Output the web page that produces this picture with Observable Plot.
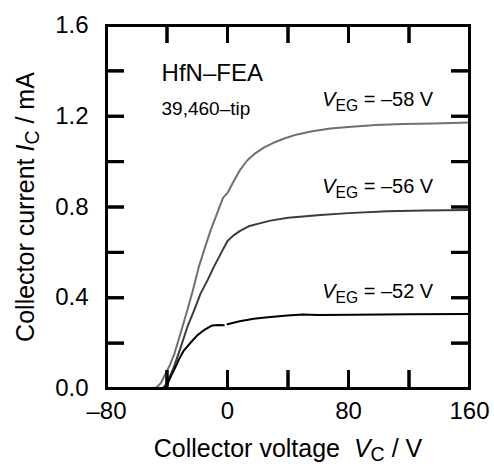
<!DOCTYPE html>
<html><head><meta charset="utf-8">
<script src="https://cdn.jsdelivr.net/npm/d3@7"></script>
<script src="https://cdn.jsdelivr.net/npm/@observablehq/plot@0.6"></script>
<style>
body{margin:0;background:#fff}
</style>
</head><body><div id="chart"></div>
<script>
// Collector voltage (V) and collector current (mA) for each gate voltage
const vc58 = [-50, -47, -44, -41, -38, -35, -31, -27, -23, -19, -15, -11, -7, -3, 0, 4, 8, 13, 18, 24, 30, 38, 46, 56, 68, 82, 98, 116, 136, 160];
const ic58 = [0, 0.004, 0.025, 0.065, 0.105, 0.155, 0.245, 0.335, 0.43, 0.535, 0.62, 0.70, 0.77, 0.84, 0.862, 0.912, 0.96, 1.005, 1.035, 1.062, 1.082, 1.103, 1.12, 1.134, 1.146, 1.154, 1.161, 1.166, 1.168, 1.172];
const vc56 = [-43, -41, -38, -35.5, -31, -26.6, -22, -17.9, -13, -9.1, -4, 0, 4, 8.6, 14, 21.8, 28.4, 40, 61.5, 80, 105.6, 130, 160];
const ic56 = [0, 0.015, 0.055, 0.094, 0.18, 0.27, 0.345, 0.417, 0.48, 0.535, 0.6, 0.65, 0.675, 0.696, 0.715, 0.729, 0.740, 0.753, 0.765, 0.773, 0.781, 0.785, 0.787];
const vc52 = [-41, -39, -37, -35.5, -32, -28.9, -24, -20, -15, -10.1, -6, -2.4, -1.2, 0, 8, 17.4, 25, 39.5, 50, 60, 83.5, 120, 160];
const ic52 = [0, 0.03, 0.06, 0.079, 0.13, 0.167, 0.205, 0.234, 0.26, 0.278, 0.28, 0.279, null, 0.283, 0.296, 0.307, 0.313, 0.322, 0.326, 0.324, 0.325, 0.327, 0.328];
const seriesNames = ["−58", "−56", "−52"];

// tick values
const xTickMinor = [-40, 0, 40, 80, 120];
const yTickMinor = [0.2, 0.4, 0.6, 0.8, 1.0, 1.2, 1.4];
const xTickLabels = [-80, 0, 80, 160];
const yTickLabels = [0, 0.4, 0.8, 1.2, 1.6];

// annotations (anchored in data units)
const titleText = [{x: -43.6, y: 1.357, text: "HfN–FEA"}];
const subText = [{x: -43.6, y: 1.205, text: "39,460–tip"}];
const curveLabels = [
  {x: 136, y: 1.245, text: "VEG = –58 V"},
  {x: 136, y: 0.862, text: "VEG = –56 V"},
  {x: 136, y: 0.400, text: "VEG = –52 V"}
];

const rows = [];
[[vc58, ic58], [vc56, ic56], [vc52, ic52]].forEach(([v, c], k) => {
  v.forEach((x, i) => rows.push({series: seriesNames[k], vc: x, ic: c[i] == null ? NaN : c[i]}));
});

const W = 494, H = 464, mL = 106, mR = 25, mT = 25, mB = 76;
const pw = W - mL - mR, ph = H - mT - mB, tk = 18;
const fmtX = d => d < 0 ? "–" + (-d) : String(d);
const fmtY = d => d.toFixed(1);
const FONT = "Liberation Sans, Arial, sans-serif";

const plot = Plot.plot({
  width: W, height: H,
  marginLeft: mL, marginRight: mR, marginTop: mT, marginBottom: mB,
  style: {color: "#000", background: "#fff"},
  x: {domain: [-80, 160]},
  y: {domain: [0, 1.6]},
  color: {domain: seriesNames, range: ["#707070", "#3c3c3c", "#000000"]},
  marks: [
    Plot.line(rows, {x: "vc", y: "ic", z: "series", stroke: "series", strokeWidth: 2}),
    Plot.axisX(xTickLabels, {anchor: "bottom", tickSize: 0, tickPadding: 13, tickFormat: fmtX, fontSize: 24, fontFamily: FONT,
      label: "Collector voltage  VC / V", labelAnchor: "center", labelArrow: "none", labelOffset: 68}),
    Plot.axisY(yTickLabels, {anchor: "left", tickSize: 0, tickPadding: 18, tickFormat: fmtY, fontSize: 24, fontFamily: FONT,
      label: "Collector current IC / mA", labelAnchor: "center", labelArrow: "none", labelOffset: 90}),
    Plot.text(titleText, {x: "x", y: "y", text: "text", textAnchor: "start", lineAnchor: "bottom", fontSize: 24, fontFamily: FONT}),
    Plot.text(subText, {x: "x", y: "y", text: "text", textAnchor: "start", lineAnchor: "bottom", fontSize: 19, fontFamily: FONT}),
    Plot.text(curveLabels, {x: "x", y: "y", text: "text", textAnchor: "end", lineAnchor: "bottom", fontSize: 20, fontFamily: FONT}),
    Plot.frame({strokeWidth: 3, stroke: "#000"}),
    Plot.tickX(xTickMinor, {x: d => d, insetTop: ph - tk, strokeWidth: 3, stroke: "#000"}),
    Plot.tickX(xTickMinor, {x: d => d, insetBottom: ph - tk, strokeWidth: 3, stroke: "#000"}),
    Plot.tickY(yTickMinor, {y: d => d, insetRight: pw - tk, strokeWidth: 3, stroke: "#000"}),
    Plot.tickY(yTickMinor, {y: d => d, insetLeft: pw - tk, strokeWidth: 3, stroke: "#000"})
  ]
});

document.getElementById("chart").appendChild(plot);
const svg = plot.tagName.toLowerCase() === "svg" ? plot : plot.querySelector("svg");

// inward ticks again, positioned with the plot's own scales
const sx = plot.scale("x"), sy = plot.scale("y");
const x0 = mL, x1 = W - mR, y0 = mT, y1 = H - mB;
const tg = d3.select(svg).append("g").attr("stroke", "#000").attr("stroke-width", 3);
xTickMinor.forEach(v => {
  const x = sx.apply(v) + 0.5;
  tg.append("line").attr("x1", x).attr("x2", x).attr("y1", y1).attr("y2", y1 - tk);
  tg.append("line").attr("x1", x).attr("x2", x).attr("y1", y0).attr("y2", y0 + tk);
});
yTickMinor.forEach(v => {
  const y = sy.apply(v) + 0.5;
  tg.append("line").attr("x1", x0).attr("x2", x0 + tk).attr("y1", y).attr("y2", y);
  tg.append("line").attr("x1", x1).attr("x2", x1 - tk).attr("y1", y).attr("y2", y);
});

// rich text: italic variables with subscripts
const NS = "http://www.w3.org/2000/svg";
function rich(el, parts) {
  while (el.firstChild) el.removeChild(el.firstChild);
  parts.forEach(p => {
    const t = document.createElementNS(NS, "tspan");
    t.textContent = p.t;
    if (p.i) t.setAttribute("font-style", "italic");
    if (p.s) t.setAttribute("font-size", p.s);
    if (p.dy) t.setAttribute("dy", p.dy);
    el.appendChild(t);
  });
}
svg.querySelectorAll("text").forEach(el => {
  const s = el.textContent;
  const m = s.match(/^VEG(.*)$/);
  if (m) {
    rich(el, [{t: "V", i: 1}, {t: "EG", s: "0.78em", dy: 5}, {t: m[1], dy: -5}]);
  } else if (s === "Collector voltage  VC / V") {
    el.setAttribute("font-size", 25);
    el.setAttribute("font-family", FONT);
    rich(el, [{t: "Collector voltage\u00a0\u00a0"}, {t: "V", i: 1}, {t: "C", s: "0.78em", dy: 4}, {t: " / V", dy: -4}]);
  } else if (s === "Collector current IC / mA") {
    el.setAttribute("font-size", 25);
    el.setAttribute("font-family", FONT);
    rich(el, [{t: "Collector current "}, {t: "I", i: 1}, {t: "C", s: "0.78em", dy: 5}, {t: " / mA", dy: -5}]);
  }
});
</script>
</body></html>
